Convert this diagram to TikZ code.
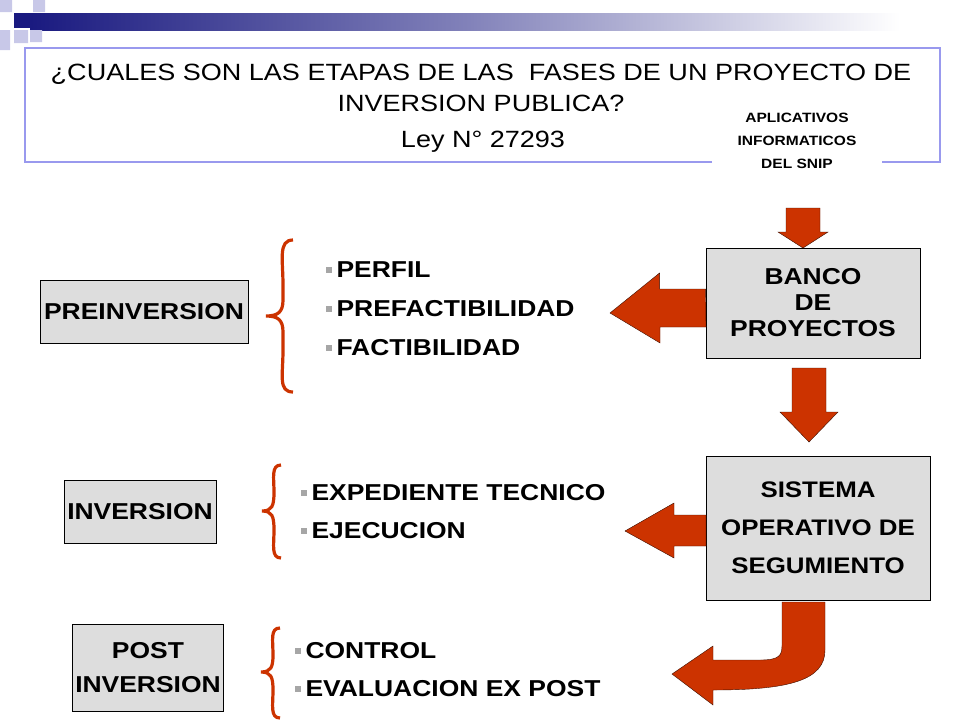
\documentclass[tikz,border=0pt]{standalone}
\usepackage{fontspec}
\setmainfont[FakeStretch=1.15]{Liberation Sans}
\definecolor{navy}{HTML}{1A1A80}
\definecolor{lav}{HTML}{9999EE}
\definecolor{lite}{HTML}{C8C8E8}
\definecolor{rust}{HTML}{CC3300}
\definecolor{boxgray}{HTML}{DDDDDD}
\tikzset{
  phase/.style={draw,fill=boxgray,thick,align=center,font=\fontsize{23}{34}\selectfont\bfseries},
  item/.style={anchor=west,font=\fontsize{23}{26}\selectfont\bfseries},
  bull/.style={fill=gray!70,minimum size=6pt,inner sep=0pt},
  blockarrow/.style={fill=rust,draw=black!70!rust,thin},
  brace/.style={draw=rust,line width=3.2pt}
}
\begin{document}
\begin{tikzpicture}[x=1pt,y=-1pt]
  \useasboundingbox (0,0) rectangle (960,720);
  % header decoration
  \shade[left color=navy,right color=white,middle color=navy!55] (30,13) rectangle (900,30);
  \fill[navy] (14,13) rectangle (30,28);
  \fill[lite] (0,0) rectangle (12,12) (33,0) rectangle (45,12) (14,30) rectangle (28,43)
              (0,30) rectangle (10,50) (30,30) rectangle (42,42);
  % title box
  \draw[lav,line width=2.5pt] (712,162) -- (25,162) -- (25,48) -- (940,48) -- (940,162) -- (882,162);
  \node (title) at (481,88) [align=center,font=\fontsize{23.5}{31}\selectfont] {¿CUALES SON LAS ETAPAS DE LAS\ \ FASES DE UN PROYECTO DE\\ INVERSION PUBLICA?};
  \node (ley) at (483,142) [font=\fontsize{23.5}{28}\selectfont] {Ley N° 27293};
  \node (apps) at (797,141) [align=center,font=\fontsize{13.5}{23}\selectfont\bfseries] {APLICATIVOS\\INFORMATICOS\\DEL SNIP};
  % systems
  \node (banco) at (813,303) [phase,minimum width=214pt,minimum height=110pt,font=\fontsize{23}{26}\selectfont\bfseries] {BANCO\\DE\\PROYECTOS};
  \node (sistema) at (818,528) [phase,minimum width=224pt,minimum height=144pt,font=\fontsize{22.5}{38}\selectfont\bfseries] {SISTEMA\\OPERATIVO DE\\SEGUMIENTO};
  % phases
  \node (pre) at (144,312) [phase,minimum width=208pt,minimum height=63pt,inner xsep=1pt] {PREINVERSION};
  \node (inv) at (140,512) [phase,minimum width=152pt,minimum height=63pt,inner xsep=1pt] {INVERSION};
  \node (post) at (148,668) [phase,minimum width=151pt,minimum height=87pt,inner xsep=1pt] {POST\\INVERSION};
  % block arrows
  \draw[blockarrow] (786,208) -- (820,208) -- (820,232) -- (828,232) -- (803,248) -- (778,232) -- (786,232) -- cycle;
  \draw[blockarrow] (banco.west) ++(0,-14) -- ++(-46,0) -- ++(0,-16) -- (610,313) -- (660,343) -- (660,327) -- (706,327) -- cycle;
  \draw[blockarrow] (792,368) -- (826,368) -- (826,412) -- (838,412) -- (809,442) -- (780,412) -- (792,412) -- cycle;
  \draw[blockarrow] (706,515) -- (674,515) -- (674,503) -- (625,531) -- (674,558) -- (674,546) -- (706,546) -- cycle;
  \draw[blockarrow] (782,602) -- (825,602) -- (825,650) .. controls (825,680) and (790,690) .. (713,690)
        -- (713,705) -- (672,674) -- (713,646) -- (713,660) -- (760,660) .. controls (780,660) and (782,655) .. (782,645) -- cycle;
  % braces
  \draw[brace] (293,240) .. controls (278,240) and (283,260) .. (283,285) -- (283,300) .. controls (283,312) and (278,316) .. (266,316)
               .. controls (278,316) and (283,320) .. (283,332) -- (283,350) .. controls (283,375) and (278,392) .. (293,392);
  \draw[brace] (281,465) .. controls (271,465) and (274,478) .. (274,492) .. controls (274,506) and (272,511) .. (262,511)
               .. controls (272,511) and (274,516) .. (274,530) .. controls (274,545) and (271,558) .. (281,558);
  \draw[brace] (280,628) .. controls (270,628) and (273,640) .. (273,655) .. controls (273,667) and (271,672) .. (261,672)
               .. controls (271,672) and (273,677) .. (273,690) .. controls (273,705) and (270,718) .. (280,718);
  % items
  \foreach \t [count=\i] in {PERFIL,PREFACTIBILIDAD,FACTIBILIDAD}{
    \node[bull] at (329,{231+39*\i}) {};
    \node[item] at (333,{231+39*\i}) {\t};
  }
  \foreach \t [count=\i] in {EXPEDIENTE TECNICO,EJECUCION}{
    \node[bull] at (304,{455+38*\i}) {};
    \node[item] at (308,{455+38*\i}) {\t};
  }
  \foreach \t [count=\i] in {CONTROL,EVALUACION EX POST}{
    \node[bull] at (298,{613+38*\i}) {};
    \node[item] at (302,{613+38*\i}) {\t};
  }
\end{tikzpicture}
\end{document}
